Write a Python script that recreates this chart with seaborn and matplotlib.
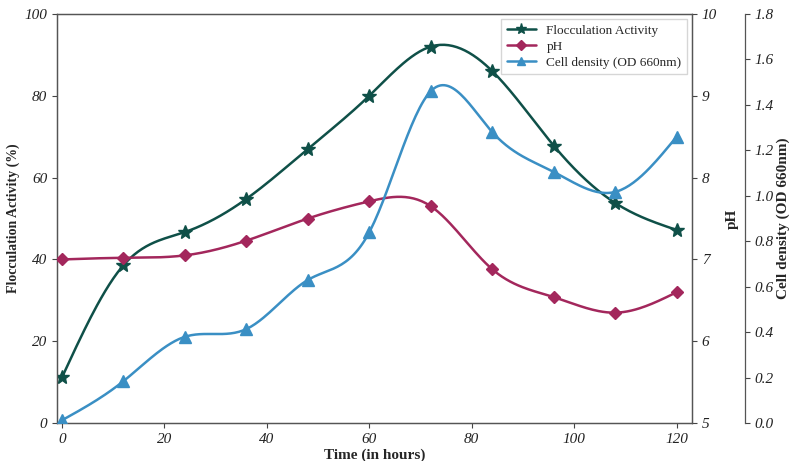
import numpy as np
import pandas as pd
import matplotlib
matplotlib.use("Agg")
import matplotlib.pyplot as plt
from matplotlib.lines import Line2D
import seaborn as sns

# data
time_h = [0, 12, 24, 36, 48, 60, 72, 84, 96, 108, 120]
flocculation = [11.2, 38.6, 46.7, 54.8, 67.0, 80.0, 92.0, 86.0, 67.8, 53.8, 47.2]
ph = [7.00, 7.02, 7.05, 7.23, 7.50, 7.71, 7.65, 6.88, 6.54, 6.35, 6.60]
cell_density = [0.013, 0.185, 0.38, 0.414, 0.63, 0.84, 1.46, 1.28, 1.105, 1.017, 1.26]

c_floc = "#0f5048"
c_ph = "#a3275c"
c_cell = "#3a8fc4"


def smooth(x, y, n=300):
    # natural cubic spline, only used to draw the curve between the points
    x = np.asarray(x, float)
    y = np.asarray(y, float)
    k = len(x)
    h = np.diff(x)
    A = np.zeros((k, k))
    b = np.zeros(k)
    A[0, 0] = A[-1, -1] = 1
    for i in range(1, k - 1):
        A[i, i - 1] = h[i - 1]
        A[i, i] = 2 * (h[i - 1] + h[i])
        A[i, i + 1] = h[i]
        b[i] = 3 * ((y[i + 1] - y[i]) / h[i] - (y[i] - y[i - 1]) / h[i - 1])
    c = np.linalg.solve(A, b)
    xs = np.linspace(x[0], x[-1], n)
    idx = np.clip(np.searchsorted(x, xs) - 1, 0, k - 2)
    dx = xs - x[idx]
    bb = (y[idx + 1] - y[idx]) / h[idx] - h[idx] * (2 * c[idx] + c[idx + 1]) / 3
    d = (c[idx + 1] - c[idx]) / (3 * h[idx])
    return xs, y[idx] + bb * dx + c[idx] * dx ** 2 + d * dx ** 3


sns.set_theme(style="ticks")
plt.rcParams["font.family"] = ["Liberation Serif", "DejaVu Serif"]

fig = plt.figure(figsize=(7.9, 4.61), dpi=100)
ax = fig.add_axes([0.072, 0.082, 0.804, 0.888])
ax2 = ax.twinx()
ax3 = ax.twinx()
ax3.spines["right"].set_position(("axes", 1.083))
for s in ["top", "left", "bottom"]:
    ax3.spines[s].set_visible(False)

series = [
    (ax, flocculation, c_floc, "*", 10, "Flocculation Activity"),
    (ax2, ph, c_ph, "D", 6.5, "pH"),
    (ax3, cell_density, c_cell, "^", 8, "Cell density (OD 660nm)"),
]
handles = []
for a, vals, col, mk, ms, lab in series:
    xs, ys = smooth(time_h, vals)
    sns.lineplot(x=xs, y=ys, ax=a, color=col, linewidth=1.8, zorder=2)
    a.plot(time_h, vals, linestyle="none", marker=mk, markersize=ms,
           color=col, zorder=3)
    handles.append(Line2D([], [], color=col, linewidth=1.8, marker=mk,
                          markersize=ms, label=lab))

ax.set_xlim(-1, 123)
ax.set_ylim(0, 100)
ax2.set_ylim(5, 10)
ax3.set_ylim(0, 1.8)
ax.set_xticks(range(0, 121, 20))
ax.set_yticks(range(0, 101, 20))
ax2.set_yticks(range(5, 11))
ax3.set_yticks(np.round(np.arange(0, 1.81, 0.2), 1))
ax3.set_yticklabels([f"{v:.1f}" for v in np.arange(0, 1.81, 0.2)])

for a in (ax, ax2, ax3):
    a.tick_params(labelsize=11, length=3.5, width=0.8, colors="#444444",
                  labelcolor="#222222")
    for lbl in a.get_xticklabels() + a.get_yticklabels():
        lbl.set_fontstyle("italic")
    for s in a.spines.values():
        s.set_color("#555555")
        s.set_linewidth(0.9)

ax.set_xlabel("Time (in hours)", fontsize=11, fontweight="bold", labelpad=2)
ax.set_ylabel("Flocculation Activity (%)", fontsize=10, fontweight="bold", labelpad=3)
ax2.set_ylabel("pH", fontsize=11, fontweight="bold", labelpad=6)
ax3.set_ylabel("Cell density (OD 660nm)", fontsize=11, fontweight="bold", labelpad=2)

ax.legend(handles=handles, loc="upper right", fontsize=9.5, frameon=True,
          borderaxespad=0.4, handlelength=2.2, labelspacing=0.3,
          markerscale=0.8, edgecolor="#cccccc", fancybox=False)

fig.savefig("out.png", dpi=100)
